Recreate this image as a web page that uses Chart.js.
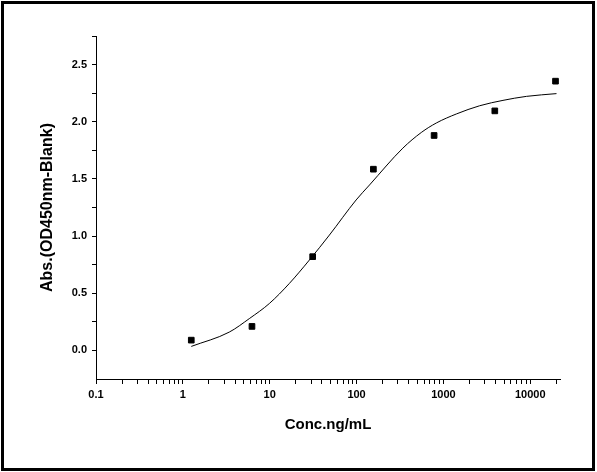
<!DOCTYPE html>
<html>
<head>
<meta charset="utf-8">
<script src="https://cdn.jsdelivr.net/npm/chart.js@4/dist/chart.umd.min.js"></script>
<style>
  html, body { margin: 0; padding: 0; background: #fff; }
  #wrap { position: relative; width: 597px; height: 472px; }
  #frame {
    position: absolute; left: 1px; top: 1px; width: 594px; height: 470px;
    box-sizing: border-box; border: 3px solid #000; pointer-events: none;
  }
  canvas { position: absolute; left: 0; top: 0; }
</style>
</head>
<body>
<div id="wrap">
  <canvas id="chart" width="597" height="472"></canvas>
  <div id="frame"></div>
</div>
<script>
// ------------------------------------------------------------
// Data
// ------------------------------------------------------------
var concValues = [1.25, 6.25, 31.25, 156.25, 781.25, 3906.25, 19531.25];
var absValues  = [0.09, 0.21, 0.82, 1.585, 1.88, 2.095, 2.355];

// fitted curve, points
var fitConc = [1.25, 3.42, 5.82, 9.9, 16.8, 28.6, 48.7, 98.9, 141, 341, 556, 828, 1409, 2617, 4853, 9040, 20050];
var fitAbs  = [0.035, 0.16, 0.278, 0.41, 0.585, 0.79, 1.009, 1.316, 1.447, 1.769, 1.906, 1.989, 2.068, 2.14, 2.187, 2.222, 2.246];

// axis ticks
var xMajorTicks = [0.1, 1, 10, 100, 1000, 10000];
var xMinorSteps = [2, 3, 4, 5, 6, 7, 8, 9];
var yMin = -0.25, yMax = 2.75, yStep = 0.25;

var FONT = "'Liberation Sans', Arial, sans-serif";

function toXY(xs, ys) {
  return xs.map(function(x, i) { return { x: x, y: ys[i] }; });
}

// all log ticks: majors plus 2..9 of each decade, up to the axis max
function buildXTicks(max) {
  var ticks = [];
  xMajorTicks.forEach(function(m) {
    ticks.push({ value: m, major: true });
    xMinorSteps.forEach(function(s) {
      var v = m * s;
      if (v <= max) ticks.push({ value: v });
    });
  });
  return ticks;
}

var ctx = document.getElementById('chart').getContext('2d');
new Chart(ctx, {
  type: 'scatter',
  data: {
    datasets: [
      {
        label: 'Fit',
        data: toXY(fitConc, fitAbs),
        showLine: true,
        borderColor: '#000',
        borderWidth: 1,
        pointRadius: 0,
        cubicInterpolationMode: 'monotone',
        fill: false
      },
      {
        label: 'Data',
        data: toXY(concValues, absValues),
        showLine: false,
        pointStyle: 'rect',
        pointRadius: 4,
        backgroundColor: '#000',
        borderColor: '#000',
        borderWidth: 1
      }
    ]
  },
  options: {
    responsive: false,
    animation: false,
    layout: { padding: { left: 0, top: 36, right: 37, bottom: 0 } },
    plugins: {
      legend: { display: false },
      tooltip: { enabled: false }
    },
    scales: {
      x: {
        type: 'logarithmic',
        min: 0.1,
        max: 22000,
        afterFit: function(s) { s.height = 93; },
        afterBuildTicks: function(s) { s.ticks = buildXTicks(s.max); },
        grid: { drawOnChartArea: false, drawTicks: true, tickLength: 5, color: '#000' },
        border: { display: true, color: '#000', width: 1 },
        ticks: {
          autoSkip: false,
          maxRotation: 0,
          padding: 4,
          color: '#000',
          font: { family: FONT, size: 11, weight: 'bold' },
          callback: function(v) {
            return xMajorTicks.indexOf(v) >= 0 ? String(v) : '';
          }
        },
        title: {
          display: true,
          text: 'Conc.ng/mL',
          color: '#000',
          font: { family: FONT, size: 15, weight: 'bold' },
          padding: { top: 0, bottom: 38 }
        }
      },
      y: {
        min: yMin,
        max: yMax,
        afterFit: function(s) { s.width = 96; },
        grid: {
          drawOnChartArea: false, drawTicks: true, tickLength: 4, color: '#000',
          tickColor: function(c) { return c.tick && c.tick.value === yMin ? 'rgba(0,0,0,0)' : '#000'; }
        },
        border: { display: true, color: '#000', width: 1 },
        ticks: {
          stepSize: yStep,
          autoSkip: false,
          padding: 5,
          color: '#000',
          font: { family: FONT, size: 11, weight: 'bold' },
          callback: function(v) {
            var r = Math.round(v * 100) / 100;
            return Math.abs(r * 2 - Math.round(r * 2)) < 1e-6 ? r.toFixed(1) : '';
          }
        },
        title: {
          display: true,
          text: 'Abs.(OD450nm-Blank)',
          color: '#000',
          font: { family: FONT, size: 16, weight: 'bold' },
          padding: { top: 38, bottom: 0 }
        }
      }
    }
  }
});
</script>
</body>
</html>
